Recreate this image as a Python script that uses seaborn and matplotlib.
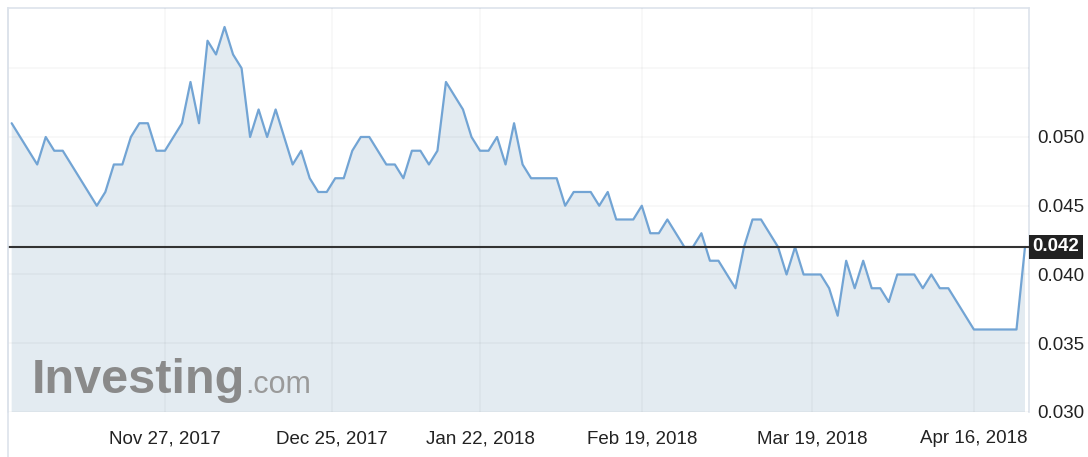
import numpy as np
import pandas as pd
import matplotlib
matplotlib.use("Agg")
import matplotlib.pyplot as plt
import matplotlib.transforms as mtransforms
from matplotlib.lines import Line2D
import seaborn as sns

# ---------------- data ----------------
prices = [
    0.051, 0.050, 0.049, 0.048, 0.050, 0.049, 0.049, 0.048, 0.047, 0.046,
    0.045, 0.046, 0.048, 0.048, 0.050, 0.051, 0.051, 0.049, 0.049, 0.050,
    0.051, 0.054, 0.051, 0.057, 0.056, 0.058, 0.056, 0.055, 0.050, 0.052,
    0.050, 0.052, 0.050, 0.048, 0.049, 0.047, 0.046, 0.046, 0.047, 0.047,
    0.049, 0.050, 0.050, 0.049, 0.048, 0.048, 0.047, 0.049, 0.049, 0.048,
    0.049, 0.054, 0.053, 0.052, 0.050, 0.049, 0.049, 0.050, 0.048, 0.051,
    0.048, 0.047, 0.047, 0.047, 0.047, 0.045, 0.046, 0.046, 0.046, 0.045,
    0.046, 0.044, 0.044, 0.044, 0.045, 0.043, 0.043, 0.044, 0.043, 0.042,
    0.042, 0.043, 0.041, 0.041, 0.040, 0.039, 0.042, 0.044, 0.044, 0.043,
    0.042, 0.040, 0.042, 0.040, 0.040, 0.040, 0.039, 0.037, 0.041, 0.039,
    0.041, 0.039, 0.039, 0.038, 0.040, 0.040, 0.040, 0.039, 0.040, 0.039,
    0.039, 0.038, 0.037, 0.036, 0.036, 0.036, 0.036, 0.036, 0.036, 0.042,
]
start_date = "2017-11-01"
holidays = ["2017-12-25", "2017-12-26", "2018-01-01", "2018-01-26", "2018-03-30"]
tick_dates = ["2017-11-27", "2017-12-25", "2018-01-22", "2018-02-19", "2018-03-19", "2018-04-16"]
tick_labels = ["Nov 27, 2017", "Dec 25, 2017", "Jan 22, 2018", "Feb 19, 2018", "Mar 19, 2018", "Apr 16, 2018"]
y_ticks = [0.030, 0.035, 0.040, 0.045, 0.050, 0.055]
y_tick_labels = ["0.030", "0.035", "0.040", "0.045", "0.050", ""]
last_price = 0.042
last_label = "0.042"
watermark_main = "Investing"
watermark_sub = ".com"

# trading-day ordinal axis
days = pd.bdate_range(start_date, periods=len(prices) + 20)
days = days[~days.isin(pd.to_datetime(holidays))][:len(prices)]
df = pd.DataFrame({"date": days, "pos": np.arange(len(prices)), "price": prices})
day_ord = np.array([d.toordinal() for d in df["date"]])
tick_ord = np.array([d.toordinal() for d in pd.to_datetime(tick_dates)])
tick_pos = np.interp(tick_ord, day_ord, df["pos"].to_numpy())

# ---------------- style ----------------
sns.set_style("white")
plt.rcParams["font.family"] = ["Liberation Sans", "DejaVu Sans"]

LINE = "#72a4d4"
FILL = "#e3ebf1"
BORDER = "#dde3eb"
TXT = "#222222"
FS = 13.5

W, H = 1088, 457
fig = plt.figure(figsize=(W / 100, H / 100), dpi=100)
fig.patch.set_facecolor("white")
ax = fig.add_axes([8 / W, 1 - 412 / H, (1029 - 8) / W, (412 - 8) / H])

y_min = y_ticks[0]
ax.fill_between(df["pos"], df["price"], y_min - 1, color=FILL, lw=0, zorder=1)
sns.lineplot(data=df, x="pos", y="price", ax=ax, color=LINE, lw=1.6, zorder=3)
ax.axhline(last_price, color="#333333", lw=1.5, zorder=4)

ax.set_xlim(-0.43, len(prices) - 1 + 0.47)
ax.set_ylim(y_min, 0.05938)

ax.set_xticks(tick_pos)
ax.set_xticklabels(tick_labels)
ax.set_yticks(y_ticks)
ax.set_yticklabels(y_tick_labels)
ax.yaxis.tick_right()
ax.set_xlabel("")
ax.set_ylabel("")
ax.tick_params(axis="y", length=0, pad=6, labelsize=FS, colors=TXT)
ax.tick_params(axis="x", length=0, pad=13, labelsize=FS, colors=TXT)

ax.set_axisbelow(False)
ax.grid(True, color="black", alpha=0.03, lw=1.2)

for side in ["left", "top", "right"]:
    ax.spines[side].set_color(BORDER)
    ax.spines[side].set_linewidth(1.2)
ax.spines["bottom"].set_visible(False)
fig.add_artist(Line2D([8 / W, 8 / W], [0, 1 - 8 / H], color=BORDER, lw=1.2,
                      transform=fig.transFigure))

# last price tag
trans = mtransforms.blended_transform_factory(ax.transAxes, ax.transData)
ax.text(1.0035, last_price, last_label, transform=trans, ha="left", va="center",
        color="white", fontsize=FS, fontweight="bold", zorder=6, clip_on=False,
        bbox=dict(boxstyle="square,pad=0.2", fc="#222222", ec="none"))

# watermark
t_main = fig.text(32 / W, 1 - 393 / H, watermark_main, fontsize=35, fontweight="bold",
                  color="#8a8a8a", va="baseline", ha="left", zorder=5)
fig.canvas.draw()
bb = t_main.get_window_extent(renderer=fig.canvas.get_renderer())
fig.text(bb.x1 / W, 1 - 393 / H, watermark_sub, fontsize=22,
         color="#9a9a9a", va="baseline", ha="left", zorder=5)

fig.savefig("out.png", dpi=100)
